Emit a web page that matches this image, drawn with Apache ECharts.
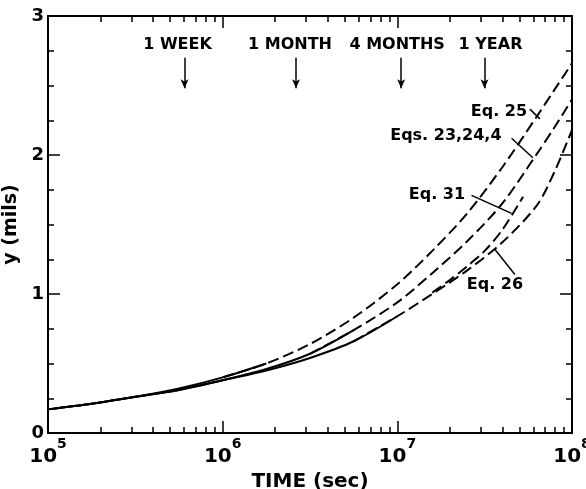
<!DOCTYPE html>
<html><head><meta charset="utf-8">
<script src="https://cdn.jsdelivr.net/npm/echarts@6/dist/echarts.min.js"></script>
<style>html,body{margin:0;padding:0;background:#fff}#c{width:586px;height:489px}</style>
</head><body><div id="c"></div>
<script>
// time grid as base-10 exponents of seconds
const timeExp = [5.0,5.25,5.5,5.75,6.0,6.25,6.5,6.75,7.0,7.2,7.4,7.6,7.8,7.9,8.0];
const eq25 = [0.17,0.21,0.26,0.32,0.40,0.50,0.64,0.83,1.07,1.31,1.58,1.91,2.28,2.47,2.66];
const eq23_24_4 = [0.17,0.21,0.26,0.31,0.38,0.46,0.57,0.74,0.94,1.15,1.38,1.65,2.01,2.20,2.40];
const eq26 = [0.17,0.21,0.26,0.31,0.38,0.45,0.54,0.66,0.84,1.00,1.17,1.37,1.64,1.88,2.18];
const eq31Exp = [7.2,7.3,7.4,7.5,7.6,7.72];
const eq31 = [1.01,1.10,1.20,1.31,1.46,1.70];

const eventLabels = ['1 WEEK','1 MONTH','4 MONTHS','1 YEAR'];
const eventSeconds = [604800, 2629800, 10519200, 31557600];

const curveLabels = ['Eq. 25','Eqs. 23,24,4','Eq. 31','Eq. 26'];
const curveLabelPos = [[7.582,2.31],[7.278,2.14],[7.227,1.71],[7.559,1.065]];
const pointerLines = [
  [[7.759,2.33],[7.816,2.26]],
  [[7.654,2.12],[7.776,1.98]],
  [[7.425,1.71],[7.654,1.58]],
  [[7.559,1.32],[7.673,1.14]]
];
const yTicks = [0,1,2,3];
const xDecades = [5,6,7,8];
// exponent where each curve changes from solid to dashed
const solidUntil = [6.25, 6.75, 7.0];

const P = e => Math.pow(10, e);
function seg(exps, vals, lo, hi){
  const out=[];
  exps.forEach((e,i)=>{ if(e>=lo-1e-9 && e<=hi+1e-9) out.push([P(e), vals[i]]); });
  return out;
}
function prevExp(e){ let p = timeExp[0]; timeExp.forEach(x=>{ if(x<e-1e-9) p=x; }); return p; }
const minorX = [];
for (let d=xDecades[0]; d<xDecades[xDecades.length-1]; d++) for (let k=2;k<=9;k++) minorX.push(k*Math.pow(10,d));

const font = 'DejaVu Sans';
const black = '#000';
const solid = {color:black, width:2, type:'solid'};
const dashed = {color:black, width:2, type:[11,5]};
// all four x axes share the same log scale; each curve is bound to one of them so every axis is laid out
function line(name, data, ls, z, xi){
  return {name, type:'line', data, smooth:0.3, symbol:'none', lineStyle:ls, xAxisIndex:xi, yAxisIndex:0, silent:true, clip:false, z:z};
}
const txt = {color:black, fontFamily:font, fontWeight:'bold'};
const evOffsets = [[-7,0],[-6,0],[-4,0],[6,0]];

const curves = [['Eq. 25', eq25], ['Eqs. 23,24,4', eq23_24_4], ['Eq. 26', eq26]];
const series = [];
curves.forEach((c,i)=>{
  series.push(line(c[0]+' solid', seg(timeExp, c[1], 5, solidUntil[i]), solid, 2, i));
  series.push(line(c[0], seg(timeExp, c[1], prevExp(solidUntil[i]), 8), dashed, 3, i));
});
series.push(Object.assign(line('Eq. 31', eq31Exp.map((e,i)=>[P(e), eq31[i]]), dashed, 3, 3), {
    markLine: {
      silent:true, animation:false, symbol:['none','none'],
      label:{show:false},
      lineStyle:{color:black, width:1.5, type:'solid'},
      data: eventSeconds.map(t=>[{coord:[t,2.70], symbol:'none'},{coord:[t,2.48], symbol:'arrow', symbolSize:[6,9]}])
        .concat(pointerLines.map(p=>[{coord:[P(p[0][0]),p[0][1]]},{coord:[P(p[1][0]),p[1][1]]}]))
    },
    markPoint: {
      silent:true, animation:false, symbol:'circle', symbolSize:0,
      data: eventLabels.map((s,i)=>({coord:[eventSeconds[i],2.79], value:s,
              label:Object.assign({show:true, position:'inside', formatter:s, fontSize:16, offset:evOffsets[i]}, txt)}))
        .concat(curveLabels.map((s,i)=>({coord:[P(curveLabelPos[i][0]), curveLabelPos[i][1]], value:s,
              label:Object.assign({show:true, position:'inside', formatter:s, fontSize:16}, txt)})))
    }
}));

const axisLineS = {show:true, onZero:false, lineStyle:{color:black, width:2}};
const tickS = len => ({show:true, inside:true, length:len, lineStyle:{color:black, width:1.5}});
const xBase = {type:'log', logBase:10, min:P(xDecades[0]), max:P(xDecades[xDecades.length-1]), splitLine:{show:false}, gridIndex:0};
// minor tick axes: drawn on top of the main frame line, blank labels
const xMinor = {axisLine:axisLineS,
  axisLabel:{show:true, customValues:minorX, formatter: () => ' ', fontSize:1, color:'rgba(0,0,0,0)'},
  axisTick:{show:true, inside:true, length:6, lineStyle:{color:black, width:1.5}, customValues:minorX}};

const option = {
  animation:false,
  backgroundColor:'#fff',
  grid:{left:48, right:14, top:16, bottom:56, outerBoundsMode:'none', containLabel:false},
  xAxis:[
    Object.assign({}, xBase, {position:'bottom', axisLine:axisLineS, axisTick:tickS(12),
      axisLabel:{show:true, margin:4, showMinLabel:true, showMaxLabel:true,
        formatter: v => '{b|10}{s|' + Math.round(Math.log10(v)) + '}',
        rich:{b:Object.assign({fontSize:20, lineHeight:30, verticalAlign:'bottom'}, txt),
              s:Object.assign({fontSize:14, lineHeight:30, verticalAlign:'top'}, txt)}},
      name:'TIME (sec)', nameLocation:'middle', nameGap:33,
      nameTextStyle:Object.assign({fontSize:20}, txt)}),
    Object.assign({}, xBase, {position:'bottom'}, xMinor),
    Object.assign({}, xBase, {position:'top', axisLine:axisLineS, axisTick:tickS(12), axisLabel:{show:false}}),
    Object.assign({}, xBase, {position:'top'}, xMinor)
  ],
  yAxis:[
    {type:'value', min:yTicks[0], max:yTicks[yTicks.length-1], interval:1, position:'left', axisLine:axisLineS, axisTick:tickS(12),
     minorTick:{show:true, splitNumber:4, length:6, lineStyle:{color:black, width:1.5}},
     splitLine:{show:false}, minorSplitLine:{show:false},
     axisLabel:Object.assign({fontSize:18, margin:4, formatter: v => String(v)}, txt),
     name:'y (mils)', nameLocation:'middle', nameGap:20, nameRotate:90,
     nameTextStyle:Object.assign({fontSize:19}, txt)},
    {type:'value', min:yTicks[0], max:yTicks[yTicks.length-1], interval:1, position:'right', axisLine:axisLineS, axisTick:tickS(12),
     minorTick:{show:true, splitNumber:4, length:6, lineStyle:{color:black, width:1.5}},
     splitLine:{show:false}, minorSplitLine:{show:false}, axisLabel:{show:false}}
  ],
  series
};
const chart = echarts.init(document.getElementById('c'), null, {renderer:'canvas'});
chart.setOption(option);
</script></body></html>
